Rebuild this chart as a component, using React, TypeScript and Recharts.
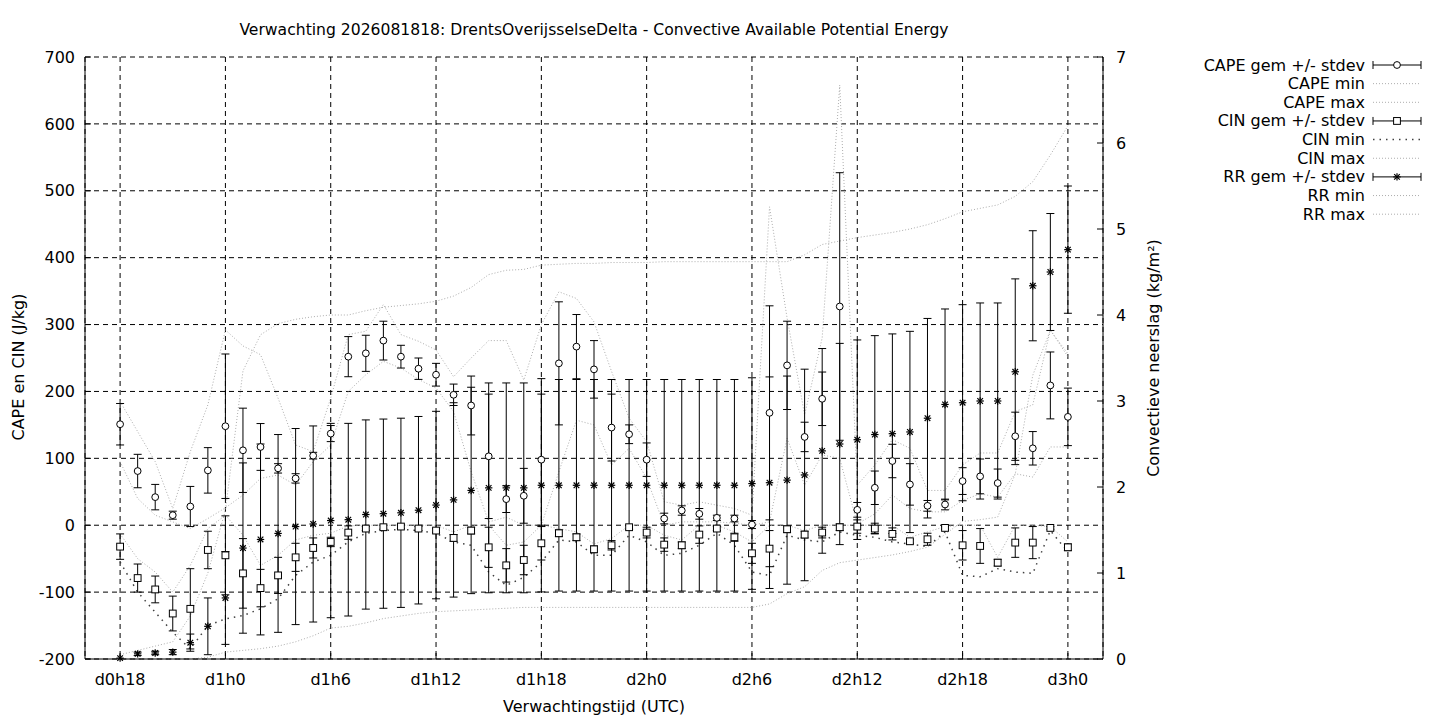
import React from 'react';
import { ComposedChart, Line, XAxis, YAxis, CartesianGrid, ErrorBar, Legend, Label } from 'recharts';

const FONT = '"DejaVu Sans", sans-serif';
const FS = 16;

const hours = [18,19,20,21,22,23,24,25,26,27,28,29,30,31,32,33,34,35,36,37,38,39,40,41,42,43,44,45,46,47,48,49,50,51,52,53,54,55,56,57,58,59,60,61,62,63,64,65,66,67,68,69,70,71,72];
const xTicks = [18,24,30,36,42,48,54,60,66,72];
const xTickLabels = ['d0h18','d1h0','d1h6','d1h12','d1h18','d2h0','d2h6','d2h12','d2h18','d3h0'];
const leftTicks = [-200,-100,0,100,200,300,400,500,600,700];
const rightTicks = [0,1,2,3,4,5,6,7];

const capeMean = [151,81,42,15,28,82,148,112,117,85,70,104,137, 252,257,276,252,234,225,195,179,103,39,44,98,242,267,233, 146,136,98,10,22,17,11,10,1,168,239,132,189,327, 23,56,96,61,29,31,66,73,63,133,115,209,162];
const capeSd = [31,25,19,6,30,34,108,63,35,7,7,5,12, 30,27,29,17,16,17,16,44,93,20,41,98,92,48,43, 50,14,25,8,7,8,4,5,6,160,66,22,40,200, 11,25,25,31,8,8,20,26,21,36,25,50,43];
const capeMin = [95,40,15,5,-5,10,26,45,70,75,60,95,120, 200,225,245,235,218,205,170,80,5,12,0,0,80,157,150, 90,115,70,0,5,5,5,3,0,5,130,60,105,100, 2,17,45,25,20,20,37,47,42,77,72,117,117];
const capeMax = [185,140,95,25,110,180,292,268,255,190,120,110,190, 285,290,330,285,275,262,222,250,276,276,217,300,349,339,304, 230,160,125,35,30,35,30,25,15,476,310,165,280,658, 60,90,128,115,52,52,90,108,108,170,180,292,252];

const cinMean = [-32,-79,-96,-132,-125,-37,-45,-72,-94,-75,-48,-34,-25, -11,-5,-3,-2,-5,-8,-19,-8,-33,-60,-52,-27,-12,-18,-36, -30,-3,-11,-29,-30,-14,-5,-18,-42,-35,-6,-14,-11,-3, -2,-5,-13,-24,-21,-4,-30,-31,-56,-26,-26,-4,-33];
const cinSd = [19,21,20,26,60,28,59,52,28,27,21,15,7, 10,3,3,3,3,3,5,5,30,25,22,25,5,5,5, 7,3,8,10,5,13,3,6,15,27,5,5,8,5, 10,8,9,3,9,2,22,26,5,22,24,2,5];
const cinMin = [-55,-100,-130,-160,-185,-150,-140,-135,-125,-110,-75,-55,-45, -25,-12,-8,-6,-8,-12,-25,-30,-70,-90,-78,-55,-22,-25,-45, -45,-15,-25,-45,-42,-30,-12,-30,-70,-75,-15,-22,-25,-10, -15,-18,-25,-28,-32,-10,-75,-77,-65,-70,-72,-8,-40];
const cinMax = [-13,-50,-70,-100,-60,-5,15,-15,-60,-45,-22,-15,-12, -1,0,0,0,0,0,-10,0,0,-30,-25,0,-5,-10,-28, -20,0,0,-15,-22,0,0,-10,-25,0,0,-8,0,0, 0,0,0,-18,-10,-2,0,0,-48,0,0,-2,-25];

const rrMean = [0.01,0.06,0.07,0.08,0.19,0.38,0.71,1.29,1.39,1.46,1.54,1.57,1.61, 1.62,1.68,1.69,1.70,1.73,1.79,1.85,1.96,1.99,1.99,1.99,2.02,2.02,2.02,2.02, 2.02,2.02,2.02,2.02,2.02,2.02,2.02,2.02,2.04,2.05,2.08,2.14,2.42,2.50, 2.55,2.61,2.62,2.64,2.80,2.96,2.98,3.00,3.00,3.34,4.34,4.50,4.76];
const rrSd = [0,0.02,0.02,0.03,0.1,0.33,0.54,0.99,1.11,1.15,1.14,1.14,1.13, 1.12,1.10,1.10,1.10,1.09,1.09,1.13,1.20,1.22,1.22,1.22,1.24,1.23,1.23,1.23, 1.23,1.23,1.23,1.23,1.23,1.23,1.23,1.23,1.23,1.23,1.21,1.23,1.19,1.17, 1.16,1.15,1.16,1.17,1.16,1.11,1.14,1.14,1.14,1.08,0.64,0.68,0.74];
const rrMin = [0,0,0,0,0,0.02,0.08,0.1,0.12,0.15,0.2,0.27,0.36, 0.38,0.42,0.47,0.5,0.53,0.55,0.56,0.57,0.58,0.59,0.6,0.6,0.6,0.6,0.6, 0.6,0.6,0.6,0.6,0.6,0.6,0.6,0.6,0.6,0.64,0.76,0.84,1.03,1.12, 1.15,1.18,1.21,1.25,1.3,1.45,1.6,1.62,1.65,2.15,3.3,3.82,3.55];
const rrMax = [0.05,0.1,0.15,0.2,0.5,1.0,1.73,3.35,3.77,3.9,3.95,3.98,4.0, 4.0,4.05,4.09,4.11,4.13,4.16,4.22,4.32,4.47,4.52,4.53,4.58,4.59,4.6,4.6, 4.61,4.61,4.61,4.62,4.62,4.62,4.62,4.62,4.62,4.62,4.62,4.7,4.82,4.86, 4.9,4.93,4.96,5.0,5.05,5.12,5.2,5.24,5.28,5.38,5.55,5.86,6.2];

const data = hours.map((h, i) => ({
  h,
  cape: capeMean[i], capeSd: capeSd[i], capeMin: capeMin[i], capeMax: capeMax[i],
  cin: cinMean[i], cinSd: cinSd[i], cinMin: cinMin[i], cinMax: cinMax[i],
  rr: rrMean[i], rrSd: rrSd[i], rrMin: rrMin[i], rrMax: rrMax[i],
}));

const TITLE = 'Verwachting 2026081818: DrentsOverijsselseDelta - Convective Available Potential Energy';
const GREY = '#adadad';
const GREY_DASH = '1 2';
const DARK = '#404040';
const DARK_DASH = '1.5 5';

function CircleDot(props: any) {
  const { cx, cy, index } = props;
  if (cx == null || cy == null) return <g key={`c${index}`} />;
  return <circle key={`c${index}`} cx={cx} cy={cy} r={3.4} fill="#fff" stroke="#000" strokeWidth={1} />;
}
function SquareDot(props: any) {
  const { cx, cy, index } = props;
  if (cx == null || cy == null) return <g key={`q${index}`} />;
  return <rect key={`q${index}`} x={cx - 3.4} y={cy - 3.4} width={6.8} height={6.8} fill="#fff" stroke="#000" strokeWidth={1} />;
}
function StarGlyph({ cx, cy }: { cx: number; cy: number }) {
  const s = 3.7, d = 2.8;
  return (
    <g stroke="#000" strokeWidth={1.2}>
      <line x1={cx - s} y1={cy} x2={cx + s} y2={cy} />
      <line x1={cx} y1={cy - s} x2={cx} y2={cy + s} />
      <line x1={cx - d} y1={cy - d} x2={cx + d} y2={cy + d} />
      <line x1={cx - d} y1={cy + d} x2={cx + d} y2={cy - d} />
    </g>
  );
}
function StarDot(props: any) {
  const { cx, cy, index } = props;
  if (cx == null || cy == null) return <g key={`s${index}`} />;
  return <g key={`s${index}`}><StarGlyph cx={cx} cy={cy} /></g>;
}

const legendItems = [
  { label: 'CAPE gem +/- stdev', kind: 'err', marker: 'circle' },
  { label: 'CAPE min', kind: 'grey' },
  { label: 'CAPE max', kind: 'grey' },
  { label: 'CIN gem +/- stdev', kind: 'err', marker: 'square' },
  { label: 'CIN min', kind: 'dark' },
  { label: 'CIN max', kind: 'grey' },
  { label: 'RR gem +/- stdev', kind: 'err', marker: 'star' },
  { label: 'RR min', kind: 'grey' },
  { label: 'RR max', kind: 'grey' },
];

const txt = { fontFamily: FONT, fontSize: FS, fill: '#000' };

function renderLegend() {
  const x0 = 193, x1 = 241, xm = 217, textX = 185, y0 = 15, dy = 18.65;
  return (
    <svg width={260} height={190} style={{ display: 'block', overflow: 'visible' }}>
      {legendItems.map((it, i) => {
        const y = y0 + i * dy;
        let sample: React.ReactNode = null;
        if (it.kind === 'err') {
          sample = (
            <g>
              <line x1={x0} y1={y} x2={x1} y2={y} stroke="#000" strokeWidth={1} />
              <line x1={x0} y1={y - 4} x2={x0} y2={y + 4} stroke="#000" strokeWidth={1} />
              <line x1={x1} y1={y - 4} x2={x1} y2={y + 4} stroke="#000" strokeWidth={1} />
              {it.marker === 'circle' && <circle cx={xm} cy={y} r={3.4} fill="#fff" stroke="#000" />}
              {it.marker === 'square' && <rect x={xm - 3.4} y={y - 3.4} width={6.8} height={6.8} fill="#fff" stroke="#000" />}
              {it.marker === 'star' && <StarGlyph cx={xm} cy={y} />}
            </g>
          );
        } else if (it.kind === 'dark') {
          sample = <line x1={x0} y1={y} x2={x1} y2={y} stroke={DARK} strokeWidth={1.5} strokeDasharray={DARK_DASH} />;
        } else {
          sample = <line x1={x0} y1={y} x2={x1} y2={y} stroke={GREY} strokeWidth={1} strokeDasharray={GREY_DASH} />;
        }
        return (
          <g key={it.label}>
            <text x={textX} y={y} textAnchor="end" dominantBaseline="central" {...txt}>{it.label}</text>
            {sample}
          </g>
        );
      })}
    </svg>
  );
}

function BottomLabels() {
  return (
    <g>
      <text x={594} y={712} textAnchor="middle" {...txt}>Verwachtingstijd (UTC)</text>
      <text x={594} y={35} textAnchor="middle" {...txt} fontSize={15.6}>{TITLE}</text>
    </g>
  );
}

export default function App() {
  return (
    <div style={{ position: 'absolute', left: 0, top: 0, width: 1440, height: 720, background: '#fff' }}>
      <ComposedChart width={1440} height={720} data={data} margin={{ top: 57, right: 277, bottom: 0, left: 0 }}>
        <CartesianGrid yAxisId="left" stroke="#000" strokeDasharray="5 4" strokeWidth={1} fill="none" />
        <XAxis
          dataKey="h" type="number" domain={[16, 74]} ticks={xTicks} interval={0}
          tickFormatter={(v: number) => xTickLabels[xTicks.indexOf(v)]}
          height={61} stroke="#000" tickSize={-6} tickMargin={21} tick={txt}
          label={<Label content={() => <BottomLabels />} />}
        />
        <XAxis
          xAxisId="top" orientation="top" type="number" domain={[16, 74]} ticks={xTicks} interval={0}
          height={0} stroke="#000" tickSize={-6} tick={false}
        />
        <YAxis
          yAxisId="left" domain={[-200, 700]} ticks={leftTicks} interval={0} width={85}
          stroke="#000" tickSize={-6} tickMargin={16} tick={txt}
          label={<Label content={() => <text x={18} y={367} transform="rotate(-90 18 367)" textAnchor="middle" dominantBaseline="central" {...txt}>CAPE en CIN (J/kg)</text>} />}
        />
        <YAxis
          yAxisId="right" orientation="right" domain={[0, 7]} ticks={rightTicks} interval={0} width={60}
          stroke="#000" tickSize={-6} tickMargin={19} tick={txt}
          label={<Label content={() => <text x={1153} y={358} transform="rotate(-90 1153 358)" textAnchor="middle" dominantBaseline="central" {...txt}>Convectieve neerslag (kg/m²)</text>} />}
        />

        <Line yAxisId="left" dataKey="capeMin" stroke={GREY} strokeDasharray={GREY_DASH} dot={false} isAnimationActive={false} type="linear" />
        <Line yAxisId="left" dataKey="capeMax" stroke={GREY} strokeDasharray={GREY_DASH} dot={false} isAnimationActive={false} type="linear" />
        <Line yAxisId="left" dataKey="cinMin" stroke={DARK} strokeWidth={1.5} strokeDasharray={DARK_DASH} dot={false} isAnimationActive={false} type="linear" />
        <Line yAxisId="left" dataKey="cinMax" stroke={GREY} strokeDasharray={GREY_DASH} dot={false} isAnimationActive={false} type="linear" />
        <Line yAxisId="right" dataKey="rrMin" stroke={GREY} strokeDasharray={GREY_DASH} dot={false} isAnimationActive={false} type="linear" />
        <Line yAxisId="right" dataKey="rrMax" stroke={GREY} strokeDasharray={GREY_DASH} dot={false} isAnimationActive={false} type="linear" />

        <Line yAxisId="right" dataKey="rr" stroke="none" dot={StarDot} activeDot={false} isAnimationActive={false}>
          <ErrorBar dataKey="rrSd" direction="y" width={4} stroke="#000" strokeWidth={1} />
        </Line>
        <Line yAxisId="left" dataKey="cin" stroke="none" dot={SquareDot} activeDot={false} isAnimationActive={false}>
          <ErrorBar dataKey="cinSd" direction="y" width={4} stroke="#000" strokeWidth={1} />
        </Line>
        <Line yAxisId="left" dataKey="cape" stroke="none" dot={CircleDot} activeDot={false} isAnimationActive={false}>
          <ErrorBar dataKey="capeSd" direction="y" width={4} stroke="#000" strokeWidth={1} />
        </Line>

        <Legend
          content={renderLegend}
          layout="horizontal" verticalAlign="middle" align="center"
          wrapperStyle={{ position: 'absolute', left: 1180, top: 50, width: 260, height: 190 }}
        />
      </ComposedChart>
    </div>
  );
}
